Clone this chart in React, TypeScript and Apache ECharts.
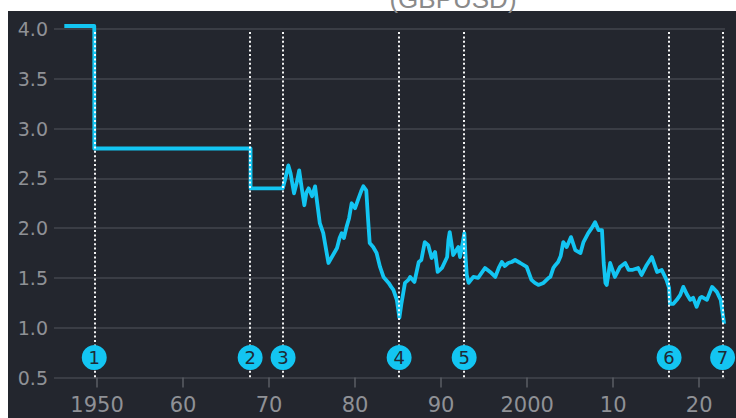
import React, { useEffect, useRef } from "react";
import * as echarts from "echarts";

// Fixed-rate era: [year, GBPUSD]
const pegYears = [1946.2, 1949.68, 1949.68, 1967.85, 1967.85, 1971.6];
const pegValues = [4.03, 4.03, 2.8, 2.8, 2.4, 2.4];

// Floating era: [year, GBPUSD]
const floatYears = [
  1971.9, 1972.24, 1972.5, 1972.9, 1973.2, 1973.5, 1973.8, 1974.1, 1974.35, 1974.6,
  1975.0, 1975.35, 1975.6, 1975.9, 1976.3, 1976.6, 1976.9, 1977.3, 1977.9, 1978.2,
  1978.45, 1978.7, 1979.0, 1979.3, 1979.6, 1980.0, 1980.4, 1980.7, 1980.96, 1981.3,
  1981.5, 1981.7, 1982.1, 1982.5, 1982.9, 1983.3, 1983.6, 1983.9, 1984.2, 1984.45,
  1984.85, 1985.15, 1985.4, 1985.6, 1985.8, 1986.2, 1986.4, 1986.9, 1987.4, 1987.7,
  1988.1, 1988.5, 1988.9, 1989.3, 1989.6, 1990.1, 1990.7, 1990.85, 1991.0, 1991.2,
  1991.4, 1992.0, 1992.2, 1992.5, 1992.7, 1992.85, 1992.98, 1993.2, 1993.75, 1994.3,
  1995.1, 1995.7, 1996.3, 1996.7, 1997.05, 1997.4, 1997.8, 1998.2, 1998.6, 1999.2,
  1999.95, 2000.5, 2000.9, 2001.3, 2001.9, 2002.5, 2002.7, 2003.05, 2003.3, 2003.6,
  2003.9, 2004.2, 2004.6, 2005.1, 2005.6, 2006.2, 2006.55, 2007.1, 2007.5, 2007.9,
  2008.3, 2008.7, 2008.9, 2009.1, 2009.25, 2009.65, 2010.2, 2010.8, 2011.4, 2011.8,
  2012.2, 2012.9, 2013.3, 2013.9, 2014.5, 2015.1, 2015.65, 2016.2, 2016.5, 2016.6,
  2017.0, 2017.4, 2017.8, 2018.15, 2018.6, 2018.95, 2019.3, 2019.7, 2020.1, 2020.3,
  2020.9, 2021.5, 2022.05, 2022.5, 2022.9,
];
const floatValues = [
  2.5, 2.63, 2.55, 2.35, 2.45, 2.58, 2.4, 2.23, 2.36, 2.4,
  2.32, 2.42, 2.25, 2.05, 1.95, 1.8, 1.65, 1.71, 1.8, 1.9,
  1.95, 1.9, 2.01, 2.1, 2.25, 2.2, 2.3, 2.37, 2.42, 2.38,
  2.1, 1.85, 1.81, 1.75, 1.61, 1.51, 1.48, 1.45, 1.41, 1.38,
  1.28, 1.1, 1.25, 1.35, 1.45, 1.48, 1.51, 1.46, 1.66, 1.68,
  1.86, 1.83, 1.7, 1.76, 1.56, 1.6, 1.71, 1.88, 1.96, 1.85,
  1.73, 1.81, 1.71, 1.85, 1.95, 1.7, 1.53, 1.45, 1.51, 1.5,
  1.6, 1.56, 1.51, 1.6, 1.66, 1.62, 1.65, 1.66, 1.68, 1.65,
  1.61, 1.48, 1.45, 1.43, 1.45, 1.5, 1.51, 1.6, 1.63, 1.66,
  1.72, 1.86, 1.81, 1.91, 1.78, 1.75, 1.86, 1.95, 2.0, 2.06,
  1.98, 1.98, 1.65, 1.45, 1.43, 1.65, 1.51, 1.61, 1.65, 1.58,
  1.58, 1.6, 1.53, 1.63, 1.71, 1.56, 1.58, 1.48, 1.4, 1.24,
  1.24, 1.28, 1.33, 1.41, 1.33, 1.28, 1.3, 1.21, 1.3, 1.31,
  1.28, 1.41, 1.36, 1.28, 1.04,
];

// Numbered events
const eventYears = [1949.68, 1967.8, 1971.63, 1985.12, 1992.68, 2016.5, 2022.72];
const eventLabels = ["1", "2", "3", "4", "5", "6", "7"];
const eventMarkerValue = 0.7;

const xTickYears = [1950, 1960, 1970, 1980, 1990, 2000, 2010, 2020];
const xTickLabels = ["1950", "60", "70", "80", "90", "2000", "10", "20"];

const titleText = "(GBPUSD)";

const FONT = "DejaVu Sans";
const CYAN = "#13c5f2";
const BG = "#23262e";

export default function App() {
  const ref = useRef<HTMLDivElement>(null);

  useEffect(() => {
    if (!ref.current) return;
    const chart = echarts.init(ref.current, undefined, { renderer: "svg" });

    const lineData: [number, number][] = [];
    pegYears.forEach((y, i) => lineData.push([y, pegValues[i]]));
    floatYears.forEach((y, i) => lineData.push([y, floatValues[i]]));

    chart.setOption({
      animation: false,
      backgroundColor: BG,
      grid: { left: 54, right: 11, top: 29, bottom: 40.5, containLabel: false },
      graphic: [
        { type: "rect", left: 0, top: 0, shape: { x: 0, y: 0, width: 736, height: 11 }, style: { fill: "#ffffff" }, z: 100 },
        { type: "rect", left: 0, top: 0, shape: { x: 0, y: 0, width: 8, height: 418 }, style: { fill: "#ffffff" }, z: 100 },
        {
          type: "text",
          x: 453,
          y: 12,
          z: 101,
          style: {
            text: titleText,
            fill: "#8a8a8a",
            font: "26px 'Liberation Sans'",
            align: "center",
            verticalAlign: "bottom",
          },
        },
      ],
      xAxis: {
        type: "value",
        min: 1945,
        max: 2023,
        splitLine: { show: false },
        axisLine: { show: false },
        axisTick: {
          show: true,
          customValues: xTickYears,
          length: 10,
          lineStyle: { color: "#5b5e65", width: 1.5 },
        },
        axisLabel: {
          customValues: xTickYears,
          margin: 17,
          color: "#8f9196",
          fontFamily: FONT,
          fontSize: 21,
          formatter: (v: number) => xTickLabels[xTickYears.indexOf(Math.round(v))] ?? "",
        },
      },
      yAxis: {
        type: "value",
        min: 0.5,
        max: 4.0,
        interval: 0.5,
        axisLine: { show: false },
        axisTick: { show: false },
        splitLine: { lineStyle: { color: "#43464e", width: 1.5 } },
        axisLabel: {
          margin: 6,
          color: "#8f9196",
          fontFamily: FONT,
          fontSize: 19,
          formatter: (v: number) => v.toFixed(1),
        },
      },
      series: [
        {
          type: "line",
          data: lineData,
          showSymbol: false,
          clip: false,
          z: 2,
          lineStyle: { color: CYAN, width: 3.8, join: "round" },
          itemStyle: { color: CYAN },
        },
        {
          type: "line",
          data: [],
          z: 3,
          markLine: {
            silent: true,
            symbol: ["none", "none"],
            label: { show: false },
            lineStyle: { color: "#ffffff", width: 2, type: [2, 2.4], opacity: 0.95 },
            data: eventYears.map((y) => [
              { coord: [y, 3.97] },
              { coord: [y, 0.5] },
            ]),
          },
        },
        {
          type: "scatter",
          z: 5,
          symbolSize: 25,
          data: eventYears.map((y, i) => [y, eventMarkerValue, eventLabels[i]]),
          itemStyle: { color: CYAN, opacity: 1 },
          label: {
            show: true,
            position: "inside",
            color: "#1e2a36",
            fontFamily: FONT,
            fontSize: 18,
            formatter: (p: any) => p.value[2],
          },
        },
      ],
    });

    return () => chart.dispose();
  }, []);

  return (
    <div style={{ position: "fixed", left: 0, top: 0, width: 736, height: 418, background: "#fff" }}>
      <div ref={ref} style={{ width: 736, height: 418 }} />
    </div>
  );
}
